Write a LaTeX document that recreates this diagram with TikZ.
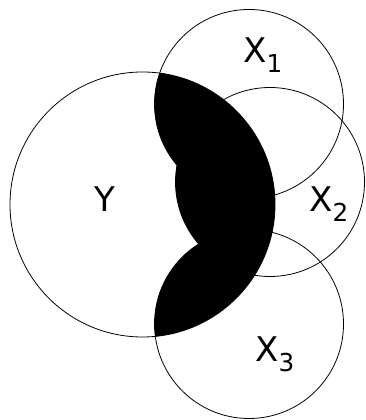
\documentclass[tikz,border=0pt]{standalone}
\usepackage{fontspec}
\setmainfont{DejaVu Sans}
\usetikzlibrary{calc}
\newcommand{\xsub}[1]{\raisebox{-7pt}{\fontsize{18.5}{20}\selectfont #1}}
\tikzset{
  setlabel/.style={anchor=base west, inner sep=0pt, font=\fontsize{25.5}{30}\selectfont},
  setline/.style={line width=0.6pt}
}

\begin{document}
\begin{tikzpicture}[x=0.75pt,y=0.75pt]
\useasboundingbox (0,0) rectangle (365,420);

% Centres
\coordinate (Y) at (142.5,215.5);
\coordinate (X1) at (249,316);
\coordinate (X2) at (270,238);
\coordinate (X3) at (249,96);

% Shaded part
\begin{scope}
\clip (Y) circle (132.5);
\fill[black] (X1) circle (94.5) (X2) circle (94.5) (X3) circle (94.5);
\end{scope}

% Circles
\draw[setline] (Y) circle (132.5);
\draw[setline] (X1) circle (94.5);
\draw[setline] (X2) circle (94.5);
\draw[setline] (X3) circle (94.5);

% Labels
\node[setlabel] (ly) at (94,208) {Y};
\node[setlabel] (lx1) at (243,357) {X\xsub{1}};
\node[setlabel] (lx2) at (309,208) {X\xsub{2}};
\node[setlabel] (lx3) at (255,58) {X\xsub{3}};

\end{tikzpicture}
\end{document}
